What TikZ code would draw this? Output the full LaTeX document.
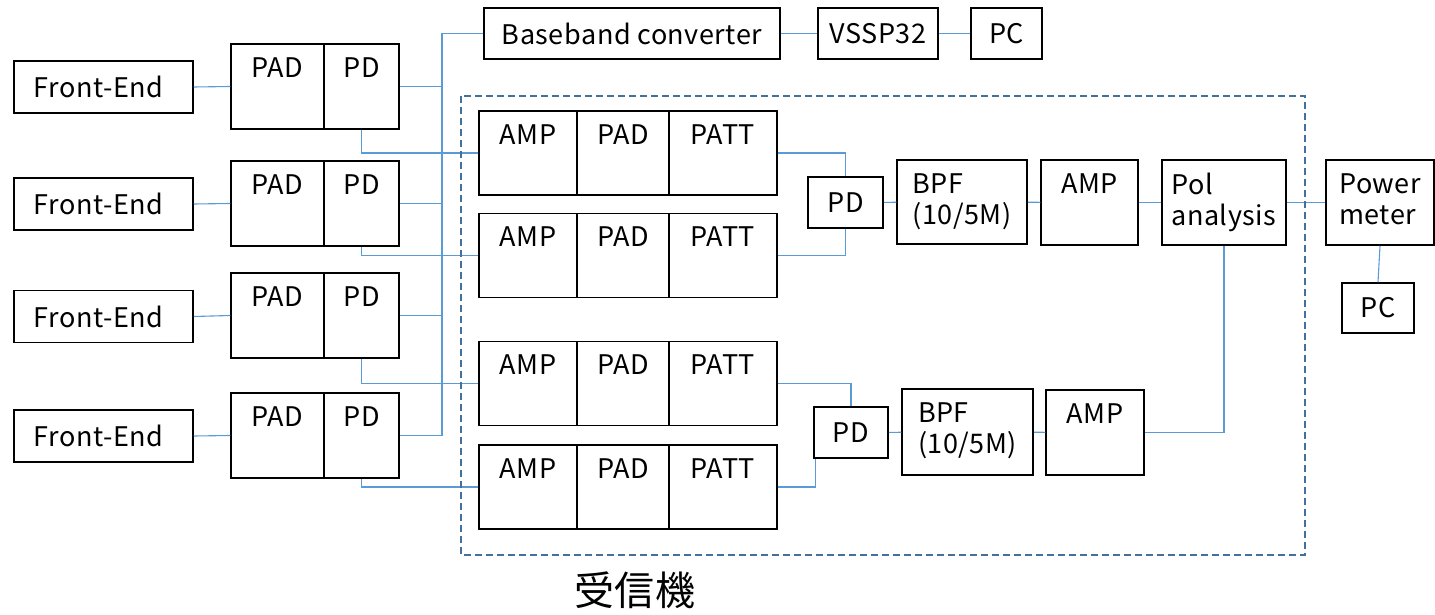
\documentclass[tikz,border=0pt]{standalone}
\usepackage{fontspec}
\setmainfont[LetterSpace=2]{Noto Sans CJK JP}
\usepackage{xcolor}
\definecolor{wireblue}{HTML}{5B9BD5}
\definecolor{frameblue}{HTML}{41719C}

\begin{document}
\begin{tikzpicture}[x=1pt, y=-1pt,
  font=\fontsize{27}{31}\selectfont,
  box/.style={draw, line width=1.5pt, inner sep=0pt},
  toptext/.style={label={[anchor=north, inner sep=0pt, yshift=-14pt, align=left]north:#1}},
  frontend/.style={box, minimum width=179pt, minimum height=52pt, text depth=0pt},
  padbox/.style={box, minimum width=93pt, minimum height=85pt},
  pdbox/.style={box, minimum width=75pt, minimum height=85pt},
  wire/.style={wireblue, line width=1.1pt}]
  \useasboundingbox (0,0) rectangle (1435,615);

  % front ends and splitters
  \node[frontend] (fe1) at (103.5,87) {Front-End\hspace*{10pt}};
  \node[frontend] (fe2) at (103.5,204) {Front-End\hspace*{10pt}};
  \node[frontend] (fe3) at (103.5,316.5) {Front-End\hspace*{10pt}};
  \node[frontend] (fe4) at (103.5,436) {Front-End\hspace*{10pt}};
  \node[padbox, toptext=PAD] (pad1) at (277.5,86.5) {};
  \node[padbox, toptext=PAD] (pad2) at (277.5,203.5) {};
  \node[padbox, toptext=PAD] (pad3) at (277.5,315.5) {};
  \node[padbox, toptext=PAD] (pad4) at (277.5,435.5) {};
  \node[pdbox, toptext=PD] (pd1) at (361.5,86.5) {};
  \node[pdbox, toptext=PD] (pd2) at (361.5,203.5) {};
  \node[pdbox, toptext=PD] (pd3) at (361.5,315.5) {};
  \node[pdbox, toptext=PD] (pd4) at (361.5,435.5) {};

  % top chain
  \node[box, minimum width=296pt, minimum height=51pt] (bbc) at (632,33.5) {Baseband converter};
  \node[box, minimum width=120pt, minimum height=51pt] (vssp) at (878,33.5) {VSSP32};
  \node[box, minimum width=71pt, minimum height=51pt] (pc) at (1006.5,33.5) {PC};

  % receiver rows
  \foreach \i/\y in {1/153, 2/255.5, 3/383.5, 4/487} {
    \node[box, minimum width=98pt, minimum height=84pt, toptext=AMP] (amp\i) at (528,\y) {};
    \node[box, minimum width=92pt, minimum height=84pt, toptext=PAD] (rpad\i) at (623,\y) {};
    \node[box, minimum width=108pt, minimum height=84pt, toptext=PATT] (patt\i) at (723,\y) {};
  }

  \node[box, minimum width=75pt, minimum height=51pt] (pdu) at (845.5,202.5) {PD};
  \node[box, minimum width=130pt, minimum height=84pt, toptext={BPF\\(10/5M)}] (bpfu) at (962,202) {};
  \node[box, minimum width=97pt, minimum height=85pt, toptext=AMP] (ampu) at (1089.5,202.5) {};
  \node[box, minimum width=124pt, minimum height=85pt, toptext={Pol\\analysis}] (pol) at (1224,202.5) {};
  \node[box, minimum width=108pt, minimum height=85pt, toptext={Power\\meter}] (pm) at (1380,202.5) {};
  \node[box, minimum width=72pt, minimum height=50pt] (pcr) at (1378,308) {PC};

  \node[box, minimum width=74pt, minimum height=51pt] (pdl) at (851,432.5) {PD};
  \node[box, minimum width=131pt, minimum height=86pt, toptext={BPF\\(10/5M)}] (bpfl) at (967.5,432) {};
  \node[box, minimum width=98pt, minimum height=85pt, toptext=AMP] (ampl) at (1095,432.5) {};

  % wiring
  \coordinate (bus) at (442,0);
  \foreach \i in {1,...,4} {
    \draw[wire] (fe\i.east) -- (pad\i.west);
    \draw[wire] (pd\i.south) |- (amp\i.west);
  }
  \foreach \i in {1,2,3}
    \draw[wire] (pd\i.east) -- (pd\i.east -| bus);
  \draw[wire] (bbc.west) -| (bus |- pd4.east) -- (pd4.east);
  \draw[wire] (bbc) -- (vssp);
  \draw[wire] (vssp) -- (pc);
  \draw[wire] (patt1.east) -| (pdu.north);
  \draw[wire] (patt2.east) -| (pdu.south);
  \draw[wire] (patt3.east) -| (pdl.north);
  \draw[wire] (patt4.east) -| ([xshift=2pt]pdl.south west);
  \draw[wire] (pdu) -- (bpfu);
  \draw[wire] (bpfu) -- (ampu);
  \draw[wire] (ampu) -- (pol);
  \draw[wire] (pol) -- (pm);
  \draw[wire] (pm.south) -- (pcr.north);
  \draw[wire] (pdl) -- (bpfl);
  \draw[wire] (bpfl) -- (ampl);
  \draw[wire] (ampl.east) -| (pol.south);

  % receiver frame
  \draw[frameblue, line width=1.8pt, dash pattern=on 7pt off 4pt] (461,96) rectangle (1305,555);
  \node[font=\fontsize{40}{44}\selectfont] (rx) at (635,590) {受信機};
\end{tikzpicture}
\end{document}
